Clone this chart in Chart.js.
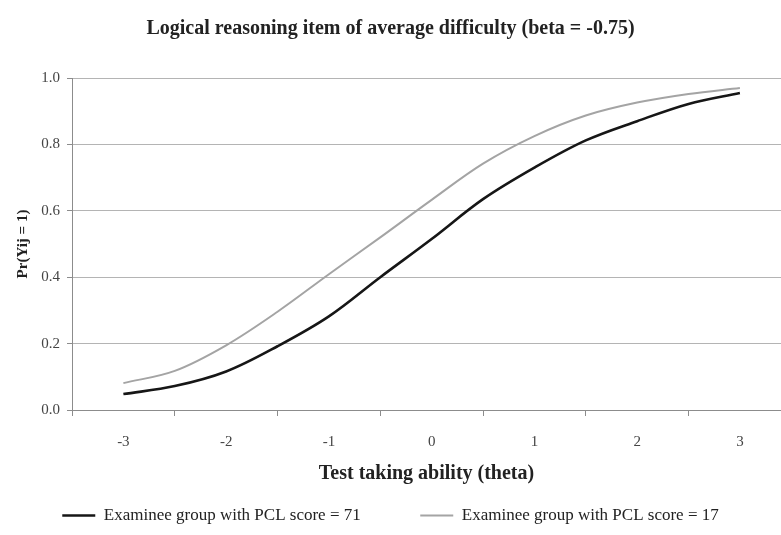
<!DOCTYPE html>
<html>
<head>
<meta charset="utf-8">
<script src="https://cdn.jsdelivr.net/npm/chart.js@4.4.1/dist/chart.umd.min.js"></script>
<style>
  html, body { margin: 0; padding: 0; background: #ffffff; overflow: hidden; }
  #wrap { width: 781px; height: 535px; }
</style>
</head>
<body>
<div id="wrap"><canvas id="c" width="781" height="535"></canvas></div>
<script>
// ---- data ----
const chartTitle = "Logical reasoning item of average difficulty (beta = -0.75)";
const xAxisTitle = "Test taking ability (theta)";
const yAxisTitle = "Pr(Yij = 1)";
const thetaValues = [-3, -2.5, -2, -1.5, -1, -0.5, 0, 0.5, 1, 1.5, 2, 2.5, 3];
const seriesPCL71 = [0.048, 0.072, 0.116, 0.192, 0.282, 0.400, 0.515, 0.635, 0.730, 0.812, 0.870, 0.922, 0.955];
const seriesPCL17 = [0.081, 0.118, 0.195, 0.296, 0.409, 0.520, 0.633, 0.742, 0.825, 0.887, 0.926, 0.952, 0.970];
const seriesNames = ["Examinee group with PCL score = 71", "Examinee group with PCL score = 17"];
const xTickLabels = [-3, -2, -1, 0, 1, 2, 3];
const xTickMarks = [-3.5, -2.5, -1.5, -0.5, 0.5, 1.5, 2.5];
const yTickLabels = [0, 0.2, 0.4, 0.6, 0.8, 1.0];

const serif = "'Liberation Serif', 'Times New Roman', serif";

function toPoints(xs, ys) { return xs.map((x, i) => ({ x: x, y: ys[i] })); }

const allTicks = xTickMarks.concat(xTickLabels).sort((a, b) => a - b);

new Chart(document.getElementById('c'), {
  type: 'line',
  data: {
    datasets: [
      {
        label: seriesNames[0],
        data: toPoints(thetaValues, seriesPCL71),
        borderColor: '#161616',
        backgroundColor: '#161616',
        borderWidth: 2.6,
        pointRadius: 0,
        pointStyle: 'line',
        tension: 0.35,
        fill: false
      },
      {
        label: seriesNames[1],
        data: toPoints(thetaValues, seriesPCL17),
        borderColor: '#a4a4a4',
        backgroundColor: '#a4a4a4',
        borderWidth: 2,
        pointRadius: 0,
        pointStyle: 'line',
        tension: 0.35,
        fill: false
      }
    ]
  },
  options: {
    responsive: false,
    animation: false,
    maintainAspectRatio: false,
    layout: { padding: { left: 0, right: 0, top: 0, bottom: 1 } },
    plugins: {
      tooltip: { enabled: false },
      title: {
        display: true,
        text: chartTitle,
        color: '#222',
        font: { family: serif, size: 20, weight: 'bold' },
        padding: { top: 17, bottom: 37 }
      },
      legend: {
        display: true,
        position: 'bottom',
        labels: {
          usePointStyle: true,
          pointStyleWidth: 33,
          padding: 9,
          color: '#222',
          font: { family: serif, size: 17 },
          generateLabels: function (chart) {
            const items = Chart.defaults.plugins.legend.labels.generateLabels(chart);
            const spacer = {
              text: '', fillStyle: 'rgba(0,0,0,0)', strokeStyle: 'rgba(0,0,0,0)',
              lineWidth: 0, pointStyle: 'line', hidden: false, datasetIndex: -1
            };
            return [items[0], spacer, items[1]];
          }
        },
        onClick: function () {}
      }
    },
    scales: {
      x: {
        type: 'linear',
        min: -3.5,
        max: 3.4,
        afterBuildTicks: function (scale) {
          scale.ticks = allTicks.map(v => ({ value: v }));
        },
        afterFit: function (scale) { scale.height = 88; },
        border: { display: true, color: '#8c8c8c', width: 1 },
        grid: {
          drawOnChartArea: false,
          drawTicks: true,
          tickLength: 6,
          tickColor: function (ctx) {
            const v = ctx.tick ? ctx.tick.value : 0;
            return Number.isInteger(v) ? 'rgba(0,0,0,0)' : '#8c8c8c';
          }
        },
        ticks: {
          autoSkip: false,
          maxRotation: 0,
          padding: 17,
          color: '#444',
          font: { family: serif, size: 15 },
          callback: function (v) { return xTickLabels.includes(v) ? String(v) : ''; }
        },
        title: {
          display: true,
          text: xAxisTitle,
          color: '#222',
          font: { family: serif, size: 20, weight: 'bold' },
          padding: { top: 9, bottom: 12 }
        }
      },
      y: {
        type: 'linear',
        min: 0,
        max: 1,
        afterBuildTicks: function (scale) {
          scale.ticks = yTickLabels.map(v => ({ value: v }));
        },
        afterFit: function (scale) { scale.width = 72; },
        border: { display: true, color: '#8c8c8c', width: 1 },
        grid: {
          drawOnChartArea: true,
          color: '#b4b4b4',
          lineWidth: 1,
          drawTicks: true,
          tickLength: 5,
          tickColor: '#8c8c8c'
        },
        ticks: {
          padding: 7,
          color: '#444',
          font: { family: serif, size: 15 },
          callback: function (v) { return Number(v).toFixed(1); }
        },
        title: {
          display: true,
          text: yAxisTitle,
          color: '#222',
          font: { family: serif, size: 15, weight: 'bold' },
          padding: { top: 14, bottom: 11 }
        }
      }
    }
  }
});
</script>
</body>
</html>
